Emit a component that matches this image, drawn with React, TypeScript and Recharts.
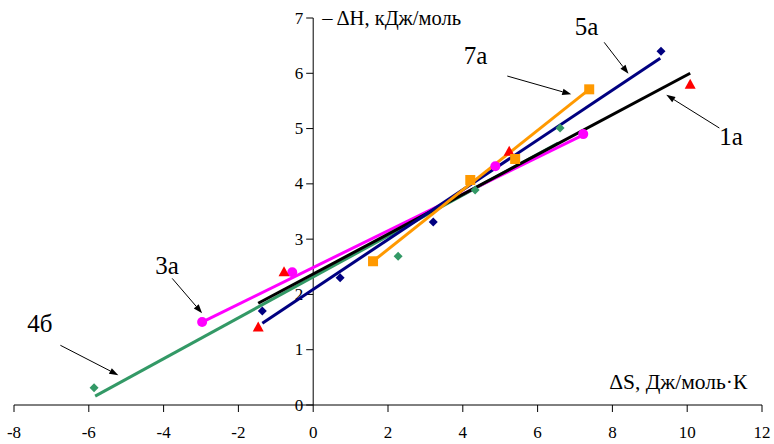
import { ComposedChart, XAxis, YAxis, Scatter, ReferenceLine, ReferenceDot } from 'recharts';

const FONT = '"Liberation Serif", "Times New Roman", serif';

// measured points: x = ΔS (Дж/моль·К), y = −ΔH (кДж/моль)
const pts1a = [
  { x: -1.47, y: 1.41 },
  { x: -0.78, y: 2.41 },
  { x: 5.24, y: 4.59 },
  { x: 10.08, y: 5.8 },
];
const pts3a = [
  { x: -2.97, y: 1.5 },
  { x: -0.56, y: 2.4 },
  { x: 4.87, y: 4.32 },
  { x: 7.22, y: 4.9 },
];
const pts4b = [
  { x: -5.86, y: 0.31 },
  { x: 2.27, y: 2.69 },
  { x: 4.33, y: 3.89 },
  { x: 6.6, y: 5.01 },
];
const pts5a = [
  { x: -1.36, y: 1.7 },
  { x: 0.72, y: 2.3 },
  { x: 3.21, y: 3.31 },
  { x: 9.3, y: 6.4 },
];
const pts7a = [
  { x: 1.6, y: 2.6 },
  { x: 4.2, y: 4.07 },
  { x: 5.4, y: 4.45 },
  { x: 7.38, y: 5.71 },
];

// trend line end points
const fit1a = [{ x: -1.47, y: 1.84 }, { x: 10.08, y: 6.0 }];
const fit3a = [{ x: -2.97, y: 1.5 }, { x: 7.14, y: 4.86 }];
const fit4b = [{ x: -5.83, y: 0.16 }, { x: 6.55, y: 4.74 }];
const fit5a = [{ x: -1.36, y: 1.48 }, { x: 9.28, y: 6.27 }];
const fit7a = [{ x: 1.6, y: 2.6 }, { x: 7.38, y: 5.71 }];

const xTicks = [-8, -6, -4, -2, 0, 2, 4, 6, 8, 10, 12];
const yTicks = [0, 1, 2, 3, 4, 5, 6, 7];

// series labels with arrow pointing at the line
const callouts = [
  { text: '4б', at: { x: -7.31, y: 1.48 }, from: { x: -6.76, y: 1.08 }, to: { x: -5.21, y: 0.54 } },
  { text: '3а', at: { x: -3.91, y: 2.53 }, from: { x: -3.77, y: 2.29 }, to: { x: -2.97, y: 1.66 } },
  { text: '7а', at: { x: 4.34, y: 6.33 }, from: { x: 5.19, y: 5.95 }, to: { x: 6.9, y: 5.62 } },
  { text: '5а', at: { x: 7.31, y: 6.84 }, from: { x: 7.78, y: 6.56 }, to: { x: 8.43, y: 5.99 } },
  { text: '1а', at: { x: 11.17, y: 4.85 }, from: { x: 10.86, y: 5.01 }, to: { x: 9.44, y: 5.61 } },
];

const Diamond = (color: string) => (p: any) => (
  <polygon
    points={`${p.cx},${p.cy - 4.5} ${p.cx + 4.5},${p.cy} ${p.cx},${p.cy + 4.5} ${p.cx - 4.5},${p.cy}`}
    fill={color}
  />
);
const Triangle = (color: string) => (p: any) => (
  <polygon
    points={`${p.cx},${p.cy - 5.5} ${p.cx + 5.5},${p.cy + 4.5} ${p.cx - 5.5},${p.cy + 4.5}`}
    fill={color}
  />
);
const Square = (color: string) => (p: any) => (
  <rect x={p.cx - 5} y={p.cy - 5} width={10} height={10} fill={color} />
);
const Circle = (color: string) => (p: any) => <circle cx={p.cx} cy={p.cy} r={5} fill={color} />;
const NoDot = () => <g />;

const series = [
  { key: '4b', pts: pts4b, fit: fit4b, line: '#339966', mark: Diamond('#339966') },
  { key: '3a', pts: pts3a, fit: fit3a, line: '#FF00FF', mark: Circle('#FF00FF') },
  { key: '1a', pts: pts1a, fit: fit1a, line: '#000000', mark: Triangle('#FF0000') },
  { key: '5a', pts: pts5a, fit: fit5a, line: '#000080', mark: Diamond('#000080') },
  { key: '7a', pts: pts7a, fit: fit7a, line: '#FF9900', mark: Square('#FF9900') },
];

function Arrow(props: any) {
  const { x1, y1, x2, y2 } = props;
  const a = Math.atan2(y2 - y1, x2 - x1);
  const len = 9;
  const half = 3.2;
  const bx = x2 - len * Math.cos(a);
  const by = y2 - len * Math.sin(a);
  const head = `${x2},${y2} ${bx + half * Math.sin(a)},${by - half * Math.cos(a)} ${bx - half * Math.sin(a)},${by + half * Math.cos(a)}`;
  return (
    <g>
      <line x1={x1} y1={y1} x2={bx} y2={by} stroke="#000" strokeWidth={1} />
      <polygon points={head} fill="#000" />
    </g>
  );
}

const YTick = (t: number) => (p: any) => (
  <g>
    <line x1={p.cx - 7} y1={p.cy} x2={p.cx} y2={p.cy} stroke="#000" strokeWidth={1} />
    <text
      x={p.cx - 10}
      y={p.cy}
      textAnchor="end"
      dominantBaseline="central"
      fontFamily={FONT}
      fontSize={17}
      fill="#000"
    >
      {t}
    </text>
  </g>
);

const TextAt = (text: string, size: number, anchor: 'start' | 'middle' = 'middle', dx = 0) => (p: any) => (
  <text
    x={p.cx + dx}
    y={p.cy}
    textAnchor={anchor}
    dominantBaseline="central"
    fontFamily={FONT}
    fontSize={size}
    fill="#000"
  >
    {text}
  </text>
);

export default function App() {
  return (
    <div style={{ position: 'absolute', left: 0, top: 0, width: 774, height: 444, background: '#fff' }}>
      <ComposedChart width={774} height={444} margin={{ top: 18, right: 12, bottom: 9, left: 14 }}>
        <XAxis
          dataKey="x"
          type="number"
          domain={[-8, 12]}
          ticks={xTicks}
          allowDataOverflow
          height={30}
          tickSize={7}
          tickMargin={14}
          stroke="#000"
          tick={{ fill: '#000', fontSize: 17, fontFamily: FONT }}
        />
        <YAxis dataKey="y" type="number" domain={[0, 7]} ticks={yTicks} allowDataOverflow hide />

        <ReferenceLine x={0} stroke="#000" strokeWidth={1} />
        {yTicks.map((t) => (
          <ReferenceDot key={`yt${t}`} x={0} y={t} r={0} shape={YTick(t)} />
        ))}
        <ReferenceDot x={0} y={7} r={0} shape={TextAt('– ΔH, кДж/моль', 20.5, 'start', 9)} />
        <ReferenceDot x={9.76} y={0.42} r={0} shape={TextAt('ΔS, Дж/моль·К', 21.5)} />

        {series.map((s) => (
          <Scatter
            key={`fit${s.key}`}
            data={s.fit}
            line={{ stroke: s.line, strokeWidth: 3 }}
            lineType="joint"
            shape={NoDot}
            isAnimationActive={false}
          />
        ))}
        {series.map((s) => (
          <Scatter key={`pts${s.key}`} data={s.pts} shape={s.mark} isAnimationActive={false} />
        ))}

        {callouts.map((c) => (
          <ReferenceLine key={`ar${c.text}`} segment={[c.from, c.to]} shape={Arrow} />
        ))}
        {callouts.map((c) => (
          <ReferenceDot key={`lb${c.text}`} x={c.at.x} y={c.at.y} r={0} shape={TextAt(c.text, 25)} />
        ))}
      </ComposedChart>
    </div>
  );
}
